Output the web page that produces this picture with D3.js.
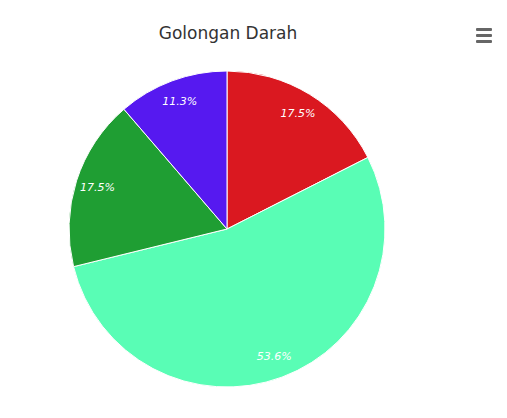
<!DOCTYPE html>
<html><head><meta charset="utf-8">
<script src="https://cdn.jsdelivr.net/npm/d3@7"></script>
<style>body{margin:0;background:#fff}</style></head>
<body><svg id="c" width="507" height="418"></svg>
<script>
const categories = ["A","O","B","AB"];
const values = [17.5, 53.6, 17.5, 11.3];
const colors = ["#da1820","#59fdb5","#1f9e33","#5619f0"];
const svg = d3.select("#c");
svg.append("text").attr("x",228).attr("y",39).attr("text-anchor","middle")
 .attr("font-family","Lucida Grande, DejaVu Sans, sans-serif").attr("font-size",17).attr("fill","#333").text("Golongan Darah");
const m = svg.append("g").attr("fill","#666");
[0,6,12].forEach(d=>m.append("rect").attr("x",476).attr("y",29+d-1).attr("width",16).attr("height",3).attr("rx",1));
const cx=227, cy=229, r=158;
const pie = d3.pie().sort(null).value(d=>d)(values);
const arc = d3.arc().innerRadius(0).outerRadius(r);
const lab = d3.arc().innerRadius(r*0.86).outerRadius(r*0.86);
const g = svg.append("g").attr("transform",`translate(${cx},${cy})`);
g.selectAll("path").data(pie).join("path").attr("d",arc).attr("fill",(d,i)=>colors[i]).attr("stroke","#fff").attr("stroke-width",1);
g.selectAll("text").data(pie).join("text").attr("transform",d=>`translate(${lab.centroid(d)})`)
 .attr("text-anchor","middle").attr("dy","0.35em").attr("font-family","DejaVu Sans, sans-serif").attr("font-size",11)
 .attr("font-style","italic").attr("fill","#fff").text((d,i)=>values[i].toFixed(1)+"%");
</script></body></html>
